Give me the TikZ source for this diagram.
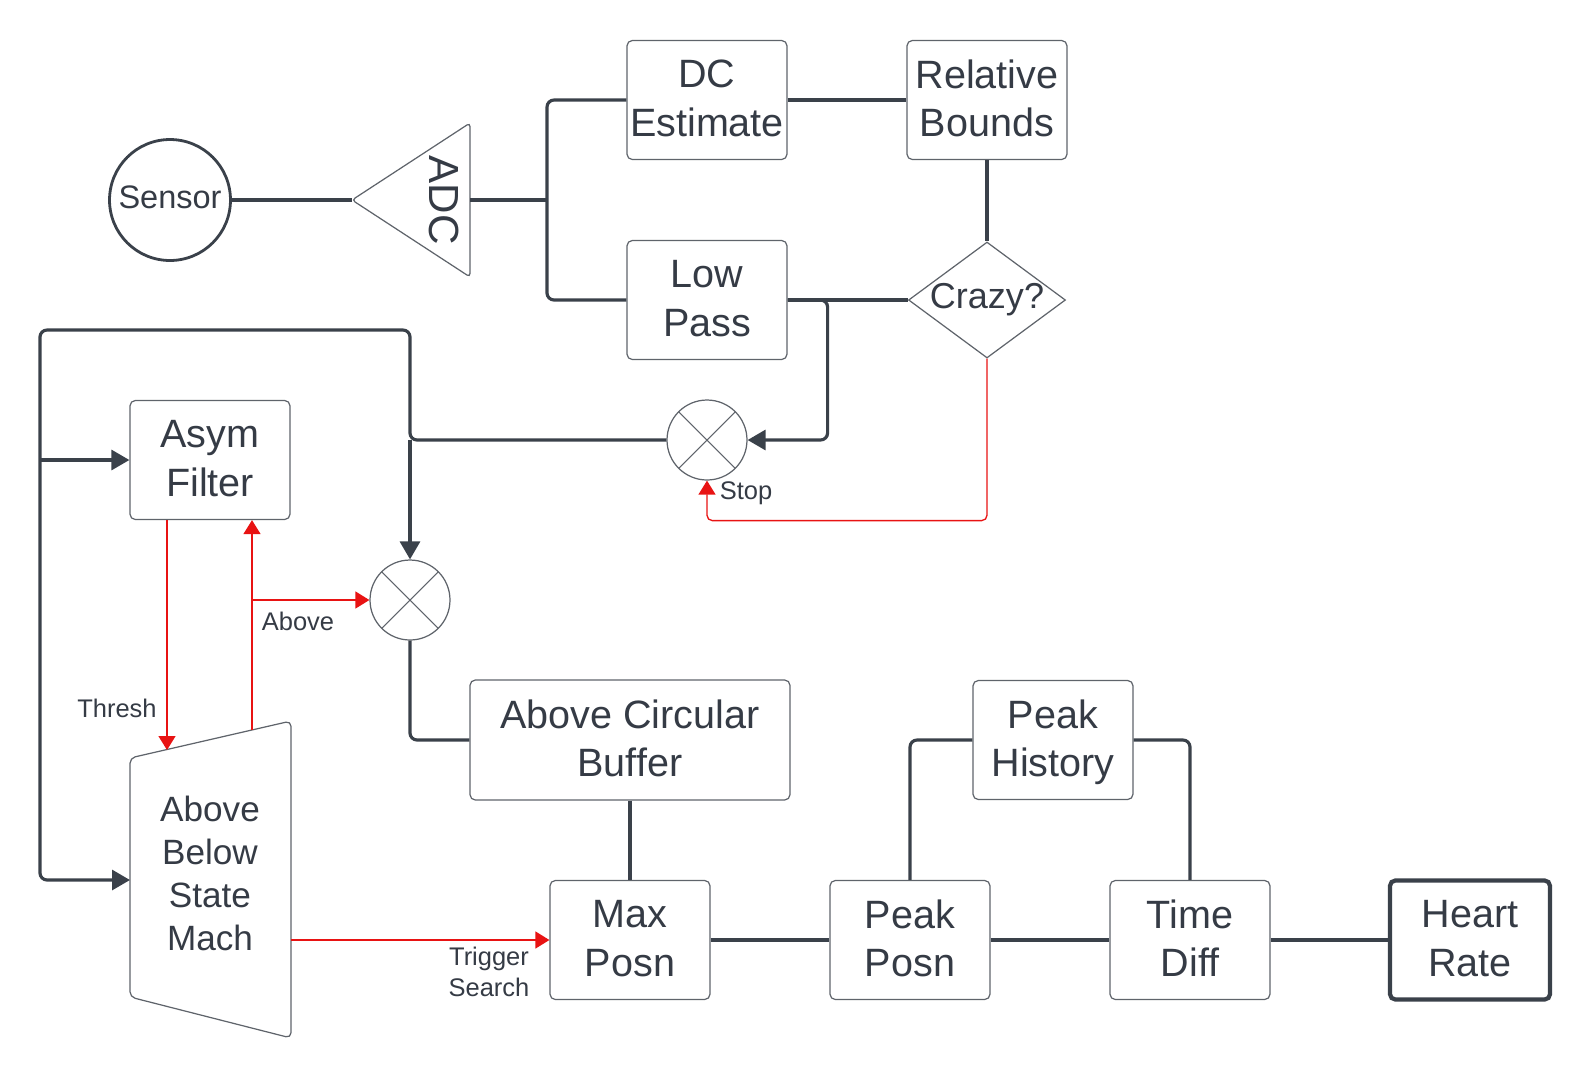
\documentclass[tikz,border=0pt]{standalone}
\usepackage{fontspec}
\setmainfont{Liberation Sans}
\usepackage{xcolor}
\usetikzlibrary{shapes.geometric,arrows.meta}
\definecolor{linec}{HTML}{3A414A}
\definecolor{edgec}{HTML}{5F646B}
\definecolor{textc}{HTML}{353B45}
\definecolor{redc}{HTML}{E81313}

\begin{document}
\begin{tikzpicture}[
  x=0.02cm, y=-0.02cm,
  box/.style={draw=edgec, line width=0.7pt, rounded corners=3pt, text=textc,
    minimum width=3.2cm, minimum height=2.38cm, align=center, inner sep=0pt,
    text depth=0.2em, font=\fontsize{22.5}{27.5}\selectfont},
  mixer/.style={circle, draw=edgec, line width=0.7pt, minimum size=1.6cm,
    path picture={\draw[edgec, line width=0.6pt]
      (path picture bounding box.north west) -- (path picture bounding box.south east)
      (path picture bounding box.north east) -- (path picture bounding box.south west);}},
  ]
  \tikzset{%
    flow/.style={draw=linec, line width=1.8pt, rounded corners=4pt},
    feed/.style={flow, -{Triangle[length=0.36cm,width=0.4cm]}},
    redflow/.style={draw=redc, line width=0.75pt, rounded corners=3pt},
    redfeed/.style={redflow, -{Triangle[length=0.28cm,width=0.34cm]}},
    tag/.style={text=textc, font=\fontsize{14.5}{17.5}\selectfont, align=center, inner sep=0pt},
  }
  \useasboundingbox (0,0) rectangle (1590,1080);
  %Nodes
  \node[circle, draw=linec, line width=1.6pt, minimum size=2.42cm, inner sep=0pt, text depth=0.3em,
    text=textc, font=\fontsize{18.5}{22}\selectfont](sensor) at (170,200){Sensor};
  \draw[edgec, line width=0.7pt, rounded corners=2pt]
    (352,200) coordinate(adcin) -- (470,123) -- (470,277) -- cycle;
  \coordinate (adcout) at (470,200);
  \coordinate (split) at (547,200);
  \node[rotate=-90, text=textc, font=\fontsize{24}{28}\selectfont](adc) at (444,200){ADC};
  \node[box](dc) at (707,100){DC\\Estimate};
  \node[box](rel) at (987,100){Relative\\Bounds};
  \node[box](lp) at (707,300){Low\\Pass};
  \node[diamond, draw=edgec, line width=0.7pt, minimum width=3.14cm, minimum height=2.32cm,
    inner sep=0pt, label={[text=textc, font=\fontsize{20.5}{24}\selectfont]center:Crazy?}](crazy) at (987,300){};
  \node[mixer](stop) at (707,440){};
  \node[tag](stoptag) at (746,493){Stop};
  \node[box](asym) at (210,460){Asym\\Filter};
  \node[mixer](mult) at (410,600){};
  \coordinate (tee) at (410,440);
  \coordinate (looptop) at (40,330);
  % state machine
  \draw[edgec, line width=0.7pt, rounded corners=3pt]
    (130,758) -- (291,721) -- (291,1038) -- (130,997) -- cycle;
  \node[text=textc, align=center, font=\fontsize{20}{24.5}\selectfont](sm) at (210,873){Above\\Below\\State\\Mach};
  \coordinate (smin) at (130,880);
  \coordinate (thr) at (167,750);
  \coordinate (abv) at (252,730);
  \coordinate (trg) at (291,940);
  \node[tag](threshtag) at (117,708){Thresh};
  \node[tag](abovetag) at (298,621){Above};
  \node[tag](trigtag) at (489,972){Trigger\\Search};
  \node[box, minimum width=6.4cm, minimum height=2.4cm](abuf) at (630,740){Above Circular\\Buffer};
  \node[box](maxp) at (630,940){Max\\Posn};
  \node[box](peakp) at (910,940){Peak\\Posn};
  \node[box](peakh) at (1053,740){Peak\\History};
  \node[box](tdiff) at (1190,940){Time\\Diff};
  \node[box, draw=linec, line width=2.4pt](hr) at (1470,940){Heart\\Rate};
  %Lines
  \draw[flow] (sensor) -- (adcin);
  \draw[flow] (adcout) -- (split);
  \draw[flow] (dc.west) -| (split) |- (lp.west);
  \draw[flow] (dc) -- (rel);
  \draw[flow] (rel) -- (crazy);
  \draw[flow] (lp.east) -- (crazy.west);
  \draw[feed] (lp.east) -- ++(40,0) |- (stop.east);
  \draw[redfeed] (crazy.south) -- ++(0,162) -| (stop.south);
  \draw[feed] (stop.west) -- (tee) |- (looptop) |- (smin);
  \draw[feed] (looptop |- asym.west) -- (asym.west);
  \draw[feed] (tee) -- (mult.north);
  \draw[flow] (mult.south) |- (abuf.west);
  \draw[flow] (abuf) -- (maxp);
  \draw[flow] (maxp) -- (peakp);
  \draw[flow] (peakp) -- (tdiff);
  \draw[flow] (tdiff) -- (hr);
  \draw[flow] (peakp.north) |- (peakh.west);
  \draw[flow] (peakh.east) -| (tdiff.north);
  \draw[redfeed] (thr |- asym.south) -- (thr);
  \draw[redfeed] (abv) -- (abv |- asym.south);
  \draw[redfeed] (abv |- mult.west) -- (mult.west);
  \draw[redfeed] (trg) -- (maxp.west);
\end{tikzpicture}
\end{document}
